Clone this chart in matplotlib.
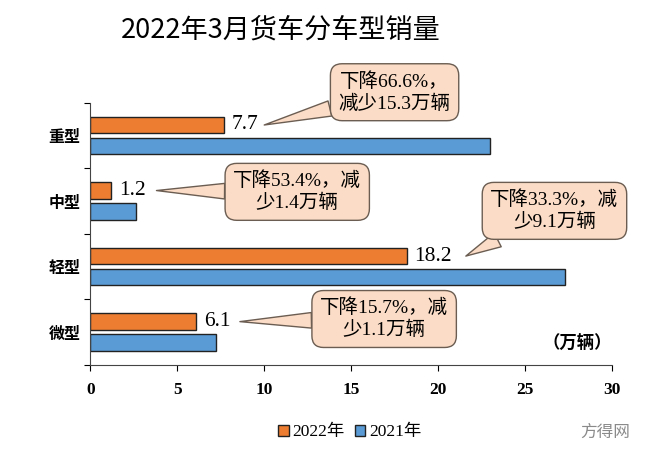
import matplotlib
matplotlib.use("Agg")
import matplotlib.pyplot as plt
import numpy as np

categories = ["重型", "中型", "轻型", "微型"]
sales_2022 = [7.7, 1.2, 18.2, 6.1]
sales_2021 = [23.0, 2.6, 27.3, 7.2]
series_names = ["2022年", "2021年"]
callout_texts = ["下降66.6%，\n减少15.3万辆", "下降53.4%，减\n少1.4万辆",
                 "下降33.3%，减\n少9.1万辆", "下降15.7%，减\n少1.1万辆"]
xticks = [0, 5, 10, 15, 20, 25, 30]

CJK = ["Noto Sans CJK SC", "DejaVu Sans"]
MIX = ["Liberation Serif", "Noto Sans CJK SC", "DejaVu Sans"]
plt.rcParams["font.family"] = CJK

fig = plt.figure(figsize=(6.6, 4.69), dpi=100)
ax = fig.add_axes([0.137, 0.222, 0.790, 0.559])

y = np.arange(len(categories))
h = 0.25
off = 0.16
c22, c21 = "#ED7D31", "#5B9BD5"
ax.barh(y - off, sales_2022, height=h, color=c22, edgecolor="#222222", linewidth=1.0, label=series_names[0])
ax.barh(y + off, sales_2021, height=h, color=c21, edgecolor="#222222", linewidth=1.0, label=series_names[1])

ax.set_xlim(0, 30)
ax.set_ylim(3.5, -0.5)
ax.set_xticks(xticks)
ax.set_xticklabels([str(t) for t in xticks], family=MIX, fontsize=12.5, fontweight="bold")
ax.set_yticks(y)
ax.set_yticklabels(categories, fontsize=11.5, fontweight="bold")
ax.set_yticks(np.arange(-0.5, 4.0, 1.0), minor=True)
ax.tick_params(axis="y", which="major", length=0, pad=7)
ax.tick_params(axis="y", which="minor", length=4, direction="out", width=0.8)
ax.tick_params(axis="x", length=4, direction="out", width=0.8, pad=8)
for s in ["top", "right"]:
    ax.spines[s].set_visible(False)
ax.spines["left"].set_color("#444444")
ax.spines["bottom"].set_color("#444444")

# value labels
for yi, v in zip(y, sales_2022):
    ax.text(v + 0.45, yi - off, f"{v:.1f}", va="center", ha="left",
            family=MIX, fontsize=15.5)

# callouts: (tip x offset beyond value, box center x, box center y)
layout = [(2.3, 17.5, -0.66), (2.6, 11.9, 0.86), (3.4, 26.7, 1.15), (2.5, 16.9, 2.80)]
peach = "#FBDCC6"
for (dx, bx, by), txt, v, yi in zip(layout, callout_texts, sales_2022, y):
    ax.annotate(txt, xy=(v + dx, yi - off), xytext=(bx, by),
                ha="center", va="center", family=MIX, fontsize=14,
                linespacing=1.25, annotation_clip=False,
                bbox=dict(boxstyle="round,pad=0.42,rounding_size=0.6", fc=peach, ec="#6b5d52", lw=1.0),
                arrowprops=dict(arrowstyle="wedge,tail_width=0.8,shrink_factor=0.5",
                                fc=peach, ec="#6b5d52", lw=1.0, shrinkA=0, shrinkB=0))

ax.text(1.0, 0.045, "（万辆）", transform=ax.transAxes, ha="right", va="bottom",
        fontsize=12.5, fontweight="bold")

fig.text(0.425, 0.935, "2022年3月货车分车型销量", ha="center", va="center", fontsize=19.5,
         fontweight="medium")

leg = fig.legend(loc="center", bbox_to_anchor=(0.53, 0.078), ncol=2, frameon=False,
                 handlelength=0.6, handleheight=0.6, handletextpad=0.2, columnspacing=0.6,
                 prop={"family": MIX, "size": 12.5})

fig.text(0.955, 0.078, "方得网", ha="right", va="center", fontsize=12, color="#8a8a8a")

fig.savefig("out.png", dpi=100)
